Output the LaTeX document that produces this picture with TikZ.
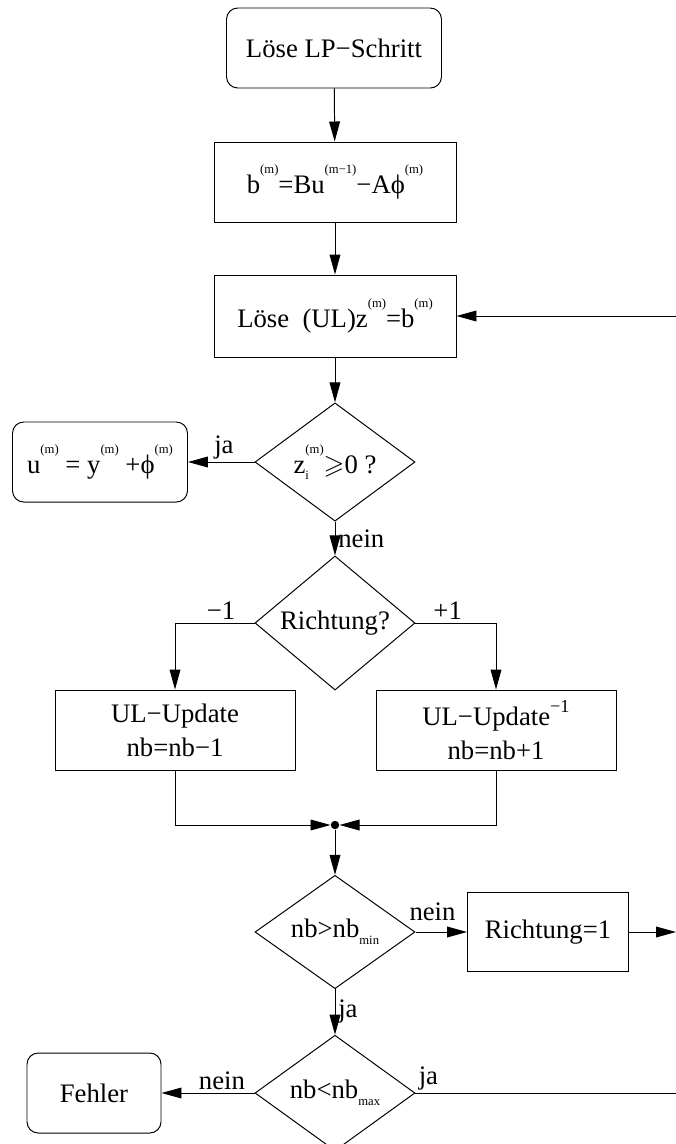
\documentclass[tikz,border=0pt]{standalone}
\usepackage{fontspec}
\setmainfont{Liberation Serif}
\usepackage{amssymb}
\usetikzlibrary{shapes.geometric, arrows.meta, positioning}

\newcommand{\hoch}[1]{\raisebox{0.75em}{\fontsize{9}{9}\selectfont #1}}
\newcommand{\tief}[1]{\raisebox{-0.25em}{\fontsize{9}{9}\selectfont #1}}
\newcommand{\hochtief}[2]{\rlap{\tief{#2}}\hoch{#1}}

\begin{document}
\begin{tikzpicture}[
  font=\fontsize{19}{24}\selectfont,
  proc/.style={draw, line width=0.7pt, minimum width=6.05cm, minimum height=2cm, align=center},
  term/.style={draw, line width=0.7pt, rounded corners=8pt, minimum height=2cm, align=center},
  entsch/.style={draw, diamond, line width=0.7pt, minimum width=4cm, minimum height=2.68cm, inner sep=0pt},
  arr/.style={-{Triangle[length=0.5cm, width=0.27cm]}, line width=0.7pt},
  lin/.style={line width=0.7pt},
  lbl/.style={inner sep=2pt},
]
\useasboundingbox (0,0) rectangle (16.9,-28.6);

\node[term, minimum width=5.375cm] (lp) at (8.35,-1.2) {Löse LP−Schritt};
\node[proc] (bm) at (8.375,-4.55) {b\hoch{(m)}=Bu\hoch{(m−1)}−Aϕ\hoch{(m)}};
\node[proc, minimum height=2.05cm] (ul) at (8.375,-7.9) {Löse\ \ (UL)z\hoch{(m)}=b\hoch{(m)}};
\node[entsch] (zi) at (8.375,-11.55) {z\hochtief{(m)}{i}$\geqslant$0 ?};
\node[term, minimum width=4.375cm] (um) at (2.5,-11.55) {u\hoch{(m)} = y\hoch{(m)} +ϕ\hoch{(m)}};
\node[entsch] (ri) at (8.375,-15.575) {Richtung?};
\node[proc, minimum width=6cm] (upl) at (4.375,-18.25) {UL−Update\\nb=nb−1};
\node[proc, minimum width=6cm] (upr) at (12.4,-18.25) {UL−Update\raisebox{0.5em}{\fontsize{13}{13}\selectfont −1}\\nb=nb+1};
\node[circle, fill, inner sep=0pt, minimum size=6pt] (jn) at (8.375,-20.625) {};
\node[entsch] (nbmin) at (8.375,-23.3) {nb>nb\tief{min}};
\node[proc, minimum width=4.025cm, minimum height=1.975cm] (r1) at (13.7,-23.3) {Richtung=1};
\node[entsch] (nbmax) at (8.375,-27.325) {nb<nb\tief{max}};
\node[term, minimum width=3.35cm] (fehler) at (2.35,-27.325) {Fehler};

% Enden am rechten Rand
\coordinate (rand1) at (16.9,-7.9);
\coordinate (rand2) at (16.9,-23.3);
\coordinate (rand3) at (16.9,-27.325);

\foreach \a/\b in {lp/bm, bm/ul, ul/zi, jn/nbmin, r1/rand2, rand1/ul}
  \draw[arr] (\a) -- (\b);

\draw[arr] (zi) -- node[lbl, above, pos=0.46]{ja} (um);
\draw[arr] (zi) -- node[lbl, right]{nein} (ri);
\draw[arr] (ri.west) -| node[lbl, above, pos=0.21]{−1} (upl);
\draw[arr] (ri.east) -| node[lbl, above, pos=0.2]{+1} (upr);
\draw[arr] (upl) |- (jn);
\draw[arr] (upr) |- (jn);
\draw[arr] (nbmin) -- node[lbl, above, pos=0.33, yshift=2mm]{nein} (r1);
\draw[arr] (nbmin) -- node[lbl, right]{ja} (nbmax);
\draw[arr] (nbmax) -- node[lbl, above, pos=0.35]{nein} (fehler);
\draw[lin] (nbmax.east) -- node[lbl, above right, pos=0]{ja} (rand3);

\end{tikzpicture}
\end{document}
